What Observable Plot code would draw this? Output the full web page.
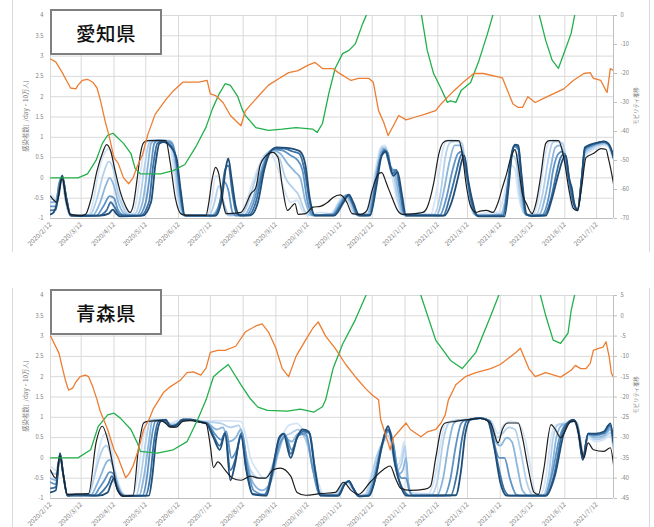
<!DOCTYPE html>
<html><head><meta charset="utf-8">
<script src="https://cdn.jsdelivr.net/npm/d3@7"></script>
<script src="https://cdn.jsdelivr.net/npm/@observablehq/plot@0.6"></script>
<style>
body{margin:0;background:#fff;}
#page{position:relative;width:654px;height:527px;overflow:hidden;font-family:"Noto Sans CJK JP","Noto Sans",sans-serif;}
.chart{position:absolute;left:0;}
.edge{position:absolute;width:0;border-left:1px solid #d9d9d9;}
.tag{position:absolute;background:#fff;border:2px solid #7f7f7f;box-sizing:border-box;display:flex;align-items:center;justify-content:center;font-size:19.5px;font-weight:500;color:#111;letter-spacing:0.5px;}
.ytitle{position:absolute;white-space:pre;color:#808080;transform:translate(-50%,-50%) rotate(-90deg);}
</style></head><body><div id="page"></div>
<script>
// Day offsets are counted from 2020-02-12; values on the left axis run -1..4,
// mobility values (orange) are read on the right-hand axis.
const xTickLabels = ["2020/2/12","2020/3/12","2020/4/12","2020/5/12","2020/6/12","2020/7/12","2020/8/12","2020/9/12","2020/10/12","2020/11/12","2020/12/12","2021/1/12","2021/2/12","2021/3/12","2021/4/12","2021/5/12","2021/6/12","2021/7/12"];
const leftTicks = [-1,-0.5,0,0.5,1,1.5,2,2.5,3,3.5,4];
const aichiRightTicks = [0,-10,-20,-30,-40,-50,-60,-70];
const aomoriRightTicks = [5,0,-5,-10,-15,-20,-25,-30,-35,-40,-45];

// ---- 愛知県 ----
const aichiBlack = [[0,-0.45],[6,-0.6],[11,0.0],[15,-0.6],[19,-0.9],[28,-0.93],[33,-0.9],[38,-0.55],[44,0.18],[49,0.6],[53,0.82],[57,0.65],[61,0.18],[66,-0.35],[71,-0.7],[75,-0.85],[78,-0.7],[82,0.0],[85,0.6],[88,0.87],[92,0.92],[109,0.92],[113,0.4],[118,-0.5],[123,-0.88],[128,-0.92],[147,-0.92],[149,-0.7],[153,0.0],[156,0.26],[159,0.1],[163,-0.6],[166,-0.88],[180,-0.85],[184,-0.7],[189,-0.4],[194,-0.24],[198,0.3],[202,0.5],[210,0.63],[215,0.5],[219,-0.2],[224,-0.8],[228,-0.7],[231,-0.63],[234,-0.9],[241,-0.88],[248,-0.72],[255,-0.7],[262,-0.6],[267,-0.48],[274,-0.42],[280,-0.6],[285,-0.88],[293,-0.9],[299,-0.8],[304,-0.3],[310,0.1],[313,0.13],[317,-0.1],[319,-0.24],[323,-0.5],[328,-0.8],[333,-0.9],[345,-0.88],[352,-0.85],[356,-0.72],[362,-0.14],[367,0.6],[371,0.87],[375,0.92],[386,0.92],[389,0.6],[393,-0.2],[397,-0.7],[402,-0.85],[406,-0.82],[412,-0.8],[418,-0.85],[423,-0.6],[427,-0.24],[431,0.1],[435,0.5],[439,0.7],[442,0.3],[446,-0.4],[450,-0.65],[455,-0.88],[459,-0.6],[463,0.0],[468,0.85],[471,0.92],[480,0.92],[485,0.5],[490,-0.3],[494,-0.75],[498,-0.8],[502,-0.2],[506,0.5],[513,0.6],[520,0.72],[525,0.7],[527,0.5],[529,0.27],[532,-0.14]];
const aichiOrange = [[0,-15],[5,-16],[11,-19.6],[16,-23],[19,-25],[24,-25.3],[26,-24],[30,-22.4],[35,-22],[40,-23],[44,-25],[47,-29],[52,-37],[55,-41],[60,-49],[64,-51],[69,-56],[74,-58],[78,-56],[82,-52],[87,-48],[92,-41],[97,-36],[99,-34],[109,-29],[116,-26],[125,-23],[134,-23],[140,-23],[148,-22.4],[151,-27],[156,-27.6],[163,-30],[170,-34.5],[177,-37],[180,-38],[184,-33],[187,-31.7],[197,-27.6],[206,-24],[216,-21.7],[225,-19.7],[234,-19],[243,-17.2],[250,-16.2],[257,-18.3],[267,-18.3],[272,-19.7],[284,-22.4],[291,-21.7],[301,-21.7],[305,-23],[310,-32.8],[315,-37],[319,-41.4],[324,-38],[329,-34.5],[336,-36],[345,-35],[354,-34],[364,-32.8],[369,-30.5],[381,-26],[390,-23],[400,-20],[409,-20],[423,-21.2],[427,-21.5],[432,-26],[437,-30.5],[442,-31.7],[446,-31.7],[451,-28],[458,-30],[466,-28.6],[475,-27],[485,-25.3],[494,-22.4],[504,-20],[510,-19.7],[513,-21.7],[520,-22.4],[525,-26],[526,-26.5],[529,-18.3],[532,-19]];
const aichiGreen = [[0,0],[26,0],[35,0.1],[43,0.43],[49,0.85],[54,1.05],[59,1.1],[61,1.05],[69,0.85],[76,0.6],[80,0.23],[85,0.1],[104,0.1],[116,0.18],[127,0.33],[137,0.75],[142,1.0],[147,1.25],[153,1.7],[159,2.05],[165,2.32],[170,2.28],[177,2.0],[181,1.7],[184,1.54],[194,1.24],[206,1.17],[219,1.2],[232,1.24],[248,1.2],[252,1.12],[257,1.34],[263,2.08],[269,2.7],[276,3.06],[282,3.14],[288,3.3],[295,3.8],[300,4.1],[312,5],[331,5.5],[345,4.6],[350,4.1],[356,3.14],[362,2.57],[369,2.2],[375,1.86],[378,1.9],[383,1.86],[388,2.15],[397,2.35],[405,2.9],[413,3.56],[419,4.1],[435,5],[454,4.5],[461,4.1],[468,3.38],[474,2.9],[480,2.7],[485,3.06],[492,3.56],[496,4.1],[510,5],[532,5.5]];
const aichiBlue1 = [[0,-0.4],[5,-0.5],[8,-0.3],[11,-0.05],[14,-0.5],[18,-0.88],[24,-0.92],[33,-0.9],[36,-0.9],[41,-0.5],[45,0.1],[50,0.55],[55,0.72],[59,0.5],[63,-0.1],[68,-0.6],[73,-0.85],[78,-0.88],[81,-0.6],[86,0.3],[90,0.85],[94,0.93],[112,0.92],[115,0.5],[119,-0.3],[123,-0.85],[127,-0.93],[148,-0.92],[152,-0.6],[156,0.05],[159,0.0],[163,-0.6],[166,-0.9],[180,-0.9],[185,-0.6],[191,-0.1],[197,0.3],[202,0.55],[208,0.6],[214,0.3],[221,-0.3],[227,-0.6],[233,-0.55],[238,-0.8],[244,-0.92],[255,-0.85],[265,-0.88],[272,-0.6],[277,-0.45],[282,-0.6],[287,-0.9],[297,-0.9],[302,-0.5],[307,0.2],[312,0.75],[316,0.8],[319,0.5],[323,0.0],[327,-0.5],[331,-0.85],[335,-0.92],[350,-0.85],[359,-0.9],[365,-0.3],[370,0.6],[374,0.9],[378,0.93],[388,0.9],[391,0.4],[395,-0.4],[399,-0.85],[403,-0.9],[416,-0.85],[423,-0.85],[428,-0.5],[432,0.0],[436,0.3],[439,0.2],[442,-0.4],[446,-0.8],[450,-0.9],[457,-0.88],[462,-0.4],[467,0.5],[471,0.88],[474,0.93],[482,0.9],[486,0.4],[490,-0.3],[493,-0.75],[498,-0.8],[502,-0.2],[505,0.55],[510,0.65],[517,0.75],[523,0.8],[527,0.78],[530,0.6],[532,0.45]];
const aichiBlue2 = [[0,-0.5],[5,-0.55],[8,-0.25],[11,0.0],[14,-0.5],[18,-0.9],[24,-0.93],[36,-0.92],[38,-0.9],[44,-0.5],[50,0.1],[55,0.4],[59,0.25],[63,-0.3],[68,-0.7],[74,-0.9],[79,-0.9],[84,-0.6],[89,0.3],[93,0.85],[96,0.93],[113,0.92],[117,0.4],[121,-0.5],[125,-0.9],[129,-0.93],[150,-0.92],[155,-0.6],[159,-0.2],[162,-0.4],[165,-0.8],[169,-0.93],[181,-0.9],[187,-0.6],[194,0.0],[200,0.45],[208,0.65],[216,0.5],[222,0.0],[229,-0.25],[234,-0.4],[240,-0.8],[246,-0.92],[265,-0.9],[273,-0.6],[278,-0.44],[283,-0.6],[288,-0.9],[299,-0.9],[304,-0.4],[309,0.3],[313,0.75],[317,0.75],[320,0.4],[324,0.1],[328,-0.5],[332,-0.88],[336,-0.93],[362,-0.9],[369,-0.3],[373,0.5],[378,0.88],[383,0.9],[389,0.85],[392,0.3],[396,-0.5],[400,-0.88],[404,-0.92],[425,-0.9],[430,-0.5],[434,0.2],[437,0.55],[440,0.4],[443,-0.3],[447,-0.85],[451,-0.92],[459,-0.9],[465,-0.4],[470,0.4],[474,0.85],[477,0.9],[484,0.85],[488,0.3],[492,-0.4],[495,-0.75],[498,-0.8],[502,-0.1],[505,0.6],[510,0.7],[517,0.8],[523,0.84],[527,0.8],[530,0.62],[532,0.48]];
const aichiBlue3 = [[0,-0.6],[5,-0.6],[8,-0.2],[11,0.02],[14,-0.5],[18,-0.9],[24,-0.93],[40,-0.92],[47,-0.6],[52,-0.2],[56,0.0],[60,-0.2],[64,-0.6],[70,-0.88],[76,-0.92],[81,-0.92],[87,-0.6],[92,0.3],[95,0.85],[99,0.93],[114,0.9],[118,0.4],[122,-0.5],[126,-0.92],[152,-0.93],[158,-0.75],[162,-0.5],[164,-0.65],[168,-0.9],[183,-0.92],[190,-0.6],[197,0.0],[203,0.5],[210,0.68],[217,0.6],[224,0.35],[231,0.15],[236,0.0],[241,-0.6],[247,-0.92],[266,-0.9],[274,-0.6],[279,-0.43],[284,-0.6],[289,-0.9],[300,-0.9],[305,-0.3],[310,0.4],[314,0.72],[318,0.65],[321,0.3],[325,0.15],[329,-0.4],[333,-0.9],[365,-0.92],[371,-0.4],[377,0.4],[382,0.8],[387,0.8],[390,0.6],[394,0.0],[398,-0.7],[402,-0.92],[426,-0.9],[431,-0.4],[435,0.4],[438,0.7],[441,0.55],[444,-0.2],[448,-0.85],[452,-0.92],[462,-0.9],[468,-0.4],[473,0.3],[477,0.75],[481,0.8],[485,0.6],[489,0.1],[493,-0.5],[498,-0.8],[502,-0.05],[505,0.65],[510,0.75],[517,0.83],[523,0.86],[527,0.82],[530,0.65],[532,0.5]];
const aichiBlue4 = [[0,-0.7],[5,-0.7],[8,-0.15],[11,0.03],[15,-0.5],[19,-0.92],[28,-0.93],[43,-0.93],[50,-0.7],[56,-0.45],[60,-0.5],[64,-0.8],[70,-0.92],[83,-0.93],[90,-0.6],[95,0.3],[98,0.85],[102,0.93],[115,0.85],[119,0.4],[123,-0.5],[127,-0.92],[154,-0.93],[160,-0.6],[164,-0.1],[168,-0.3],[172,-0.85],[176,-0.93],[185,-0.92],[192,-0.6],[198,0.0],[205,0.55],[211,0.7],[219,0.68],[227,0.55],[233,0.45],[238,0.2],[243,-0.6],[248,-0.92],[267,-0.9],[275,-0.6],[280,-0.43],[285,-0.6],[290,-0.92],[301,-0.92],[306,-0.3],[311,0.4],[315,0.7],[319,0.6],[322,0.2],[326,0.2],[330,-0.3],[334,-0.9],[368,-0.92],[374,-0.5],[380,0.2],[385,0.6],[389,0.65],[392,0.3],[396,-0.3],[400,-0.8],[404,-0.93],[427,-0.92],[432,-0.3],[435,0.5],[438,0.78],[442,0.7],[445,-0.1],[449,-0.88],[454,-0.93],[464,-0.92],[471,-0.45],[475,0.2],[480,0.6],[484,0.65],[488,0.2],[492,-0.3],[498,-0.8],[502,-0.02],[505,0.7],[510,0.78],[517,0.85],[523,0.88],[527,0.83],[530,0.67],[532,0.5]];
const aichiBlue5 = [[0,-0.8],[5,-0.78],[8,-0.3],[11,0.04],[15,-0.5],[19,-0.92],[28,-0.93],[45,-0.93],[53,-0.8],[57,-0.6],[60,-0.7],[65,-0.9],[71,-0.93],[85,-0.93],[93,-0.6],[97,0.3],[101,0.85],[105,0.9],[113,0.82],[118,0.55],[122,-0.2],[126,-0.9],[129,-0.93],[155,-0.93],[161,-0.5],[165,0.2],[168,0.3],[172,-0.4],[176,-0.9],[187,-0.92],[194,-0.6],[200,0.1],[206,0.6],[212,0.72],[221,0.72],[229,0.65],[235,0.6],[240,0.2],[245,-0.6],[249,-0.92],[267,-0.92],[276,-0.6],[281,-0.42],[285,-0.6],[291,-0.92],[302,-0.92],[307,-0.2],[312,0.5],[316,0.68],[319,0.45],[323,0.1],[327,0.2],[331,-0.4],[335,-0.92],[371,-0.93],[377,-0.5],[383,0.1],[387,0.5],[389,0.6],[393,0.1],[397,-0.5],[401,-0.88],[405,-0.94],[428,-0.93],[432,-0.2],[436,0.6],[439,0.8],[442,0.75],[445,0.0],[449,-0.9],[454,-0.93],[466,-0.92],[473,-0.5],[478,0.1],[482,0.5],[486,0.6],[490,0.0],[493,-0.5],[498,-0.8],[502,0.0],[505,0.72],[510,0.8],[517,0.86],[523,0.89],[527,0.84],[530,0.68],[532,0.5]];
const aichiBlue6 = [[0,-0.9],[3,-0.85],[8,-0.4],[11,0.06],[15,-0.5],[19,-0.93],[28,-0.94],[47,-0.93],[55,-0.88],[59,-0.78],[62,-0.88],[66,-0.95],[87,-0.93],[95,-0.6],[99,0.3],[103,0.85],[107,0.88],[113,0.78],[119,0.5],[123,-0.3],[127,-0.93],[156,-0.93],[162,-0.5],[166,0.3],[168,0.48],[171,0.0],[175,-0.7],[179,-0.93],[189,-0.92],[196,-0.6],[202,0.2],[208,0.65],[214,0.75],[223,0.74],[231,0.7],[236,0.65],[241,0.3],[245,-0.5],[250,-0.93],[268,-0.93],[277,-0.6],[282,-0.41],[286,-0.6],[292,-0.93],[302,-0.92],[308,-0.2],[313,0.55],[317,0.65],[320,0.4],[324,0.05],[328,0.15],[332,-0.4],[336,-0.93],[372,-0.93],[379,-0.6],[385,0.0],[389,0.45],[391,0.55],[395,-0.1],[399,-0.6],[403,-0.93],[406,-0.95],[429,-0.95],[433,-0.2],[436,0.6],[439,0.82],[442,0.8],[445,0.1],[450,-0.9],[455,-0.94],[468,-0.93],[474,-0.5],[480,0.1],[484,0.45],[487,0.55],[490,0.0],[493,-0.3],[495,-0.65],[498,-0.78],[502,0.0],[505,0.75],[510,0.82],[517,0.87],[523,0.9],[527,0.85],[530,0.7],[532,0.5]];

// ---- 青森県 ----
const aomoriBlack = [[0,-0.3],[5,-0.5],[9,0.05],[12,-0.4],[16,-0.9],[36,-0.88],[43,0.37],[49,0.78],[54,0.45],[59,-0.2],[63,-0.78],[69,-0.94],[78,-0.93],[83,0.2],[88,0.86],[92,0.9],[104,0.92],[109,0.85],[113,0.76],[119,0.76],[125,0.9],[132,0.92],[142,0.88],[147,0.85],[151,0.3],[154,-0.24],[158,-0.1],[165,-0.3],[172,-0.5],[180,-0.55],[189,-0.45],[197,-0.5],[203,-0.5],[210,-0.3],[217,-0.25],[227,-0.45],[233,-0.85],[241,-0.92],[255,-0.88],[269,-0.85],[277,-0.6],[284,-0.8],[291,-0.9],[302,-0.6],[315,-0.28],[321,-0.2],[326,-0.5],[331,-0.75],[340,-0.8],[354,-0.77],[359,-0.7],[364,0.0],[369,0.7],[373,0.86],[383,0.9],[397,0.95],[406,0.97],[416,0.85],[423,0.37],[427,0.7],[432,0.86],[442,0.86],[446,0.5],[451,-0.2],[457,-0.85],[461,-0.9],[466,-0.3],[473,0.82],[477,0.7],[482,0.5],[492,0.9],[496,0.9],[501,0.3],[504,0.0],[508,0.37],[513,0.2],[523,0.16],[529,0.25],[532,-0.16]];
const aomoriOrange = [[0,-5],[8,-9.2],[11,-12.6],[14,-15.8],[17,-18.3],[21,-17.8],[24,-16.3],[28,-15],[33,-14.6],[36,-15],[40,-17.5],[44,-20.7],[47,-23.5],[54,-28],[60,-33],[64,-35],[71,-39.9],[74,-39],[78,-37],[83,-33],[88,-28],[93,-25.6],[97,-23],[107,-18.8],[113,-17.5],[123,-15.8],[129,-14],[135,-13.8],[142,-14.6],[147,-12.9],[151,-9],[158,-8.5],[165,-8.5],[175,-7.5],[184,-4],[194,-2.5],[200,-2],[206,-4],[213,-8],[219,-13],[225,-15],[232,-10],[241,-6],[248,-3],[253,-1.5],[260,-5],[269,-8],[279,-12],[288,-15],[298,-18],[304,-19.5],[310,-20.7],[312,-25.6],[315,-28],[319,-31.3],[321,-33],[324,-30],[328,-28.8],[336,-26.4],[340,-28],[350,-29.8],[356,-28.6],[364,-28],[369,-26.4],[373,-24.4],[376,-20.7],[383,-17],[392,-15],[402,-14],[416,-13],[425,-12],[440,-9],[444,-8],[452,-13],[458,-15],[468,-14],[482,-15.1],[492,-13.4],[496,-12.2],[501,-13],[506,-13],[510,-11.7],[513,-8.5],[518,-8],[522,-7.7],[525,-6.4],[526,-7.7],[528,-10.2],[530,-14.1],[532,-15.1]];
const aomoriGreen = [[0,0],[26,0],[38,0.2],[45,0.77],[54,1.06],[60,1.1],[66,0.98],[76,0.7],[82,0.37],[85,0.16],[101,0.12],[116,0.2],[129,0.4],[139,0.94],[147,1.43],[154,2.0],[161,2.16],[168,2.3],[180,1.8],[189,1.45],[196,1.25],[205,1.17],[224,1.15],[236,1.2],[249,1.13],[257,1.26],[260,1.43],[267,2.2],[276,2.8],[288,3.4],[298,4.0],[312,5],[340,5],[350,4.0],[364,2.9],[378,2.4],[389,2.2],[402,2.6],[416,3.5],[425,4.1],[444,5],[458,4.5],[468,3.5],[475,2.9],[482,2.82],[489,3.07],[492,3.63],[496,4.1],[510,5],[532,5.5]];
const aomoriBlue1 = [[0,-0.2],[5,-0.3],[9,0.0],[12,-0.4],[16,-0.9],[24,-0.88],[36,-0.88],[41,-0.5],[45,0.1],[50,0.55],[53,0.6],[57,0.3],[61,-0.3],[66,-0.75],[71,-0.92],[78,-0.9],[82,-0.5],[87,0.4],[91,0.9],[95,0.94],[109,0.92],[113,0.85],[118,0.9],[125,0.94],[132,0.94],[142,0.9],[156,0.92],[180,0.9],[184,0.6],[189,0.0],[195,-0.3],[202,-0.5],[210,-0.2],[217,0.4],[225,0.8],[233,0.85],[240,0.6],[248,0.0],[253,-0.6],[259,-0.9],[269,-0.9],[276,-0.65],[280,-0.6],[285,-0.75],[290,-0.93],[297,-0.9],[302,-0.5],[308,0.0],[313,0.3],[318,0.45],[322,0.2],[327,-0.2],[331,0.0],[334,0.4],[336,-0.3],[340,-0.85],[357,-0.88],[363,-0.5],[369,0.4],[373,0.85],[378,0.9],[397,0.95],[406,0.98],[416,0.92],[423,0.6],[428,0.8],[435,0.9],[442,0.85],[449,0.4],[454,-0.3],[458,-0.85],[463,-0.9],[468,-0.5],[473,0.5],[477,0.8],[484,0.85],[492,0.9],[496,0.9],[500,0.3],[503,0.0],[508,0.5],[515,0.4],[523,0.45],[529,0.55],[532,0.2]];
const aomoriBlue2 = [[0,-0.35],[5,-0.4],[9,0.03],[12,-0.4],[16,-0.9],[36,-0.9],[40,-0.6],[44,-0.2],[49,0.2],[53,0.3],[57,0.05],[61,-0.45],[66,-0.8],[71,-0.93],[81,-0.92],[85,-0.5],[90,0.4],[94,0.9],[97,0.94],[110,0.9],[113,0.82],[119,0.85],[125,0.94],[132,0.94],[142,0.9],[151,0.88],[161,0.85],[170,0.75],[178,0.8],[183,0.3],[189,-0.3],[197,-0.5],[204,-0.5],[212,0.0],[219,0.5],[227,0.6],[234,0.7],[241,0.45],[248,-0.2],[253,-0.75],[259,-0.92],[270,-0.9],[277,-0.62],[281,-0.58],[285,-0.75],[291,-0.93],[298,-0.9],[303,-0.5],[309,0.1],[314,0.4],[319,0.55],[323,0.25],[328,-0.3],[332,-0.1],[335,0.3],[337,-0.4],[341,-0.9],[360,-0.9],[366,-0.5],[371,0.4],[376,0.85],[381,0.92],[397,0.95],[406,0.98],[416,0.9],[422,0.5],[427,0.6],[433,0.75],[439,0.7],[444,0.2],[450,-0.6],[456,-0.92],[465,-0.92],[471,-0.4],[475,0.5],[480,0.82],[487,0.85],[493,0.92],[498,0.85],[501,0.3],[503,0.0],[508,0.55],[515,0.45],[523,0.5],[529,0.62],[532,0.25]];
const aomoriBlue3 = [[0,-0.5],[5,-0.55],[9,0.06],[12,-0.4],[16,-0.92],[38,-0.92],[43,-0.7],[48,-0.4],[53,-0.1],[56,-0.05],[60,-0.3],[64,-0.7],[69,-0.93],[84,-0.92],[88,-0.5],[93,0.4],[96,0.9],[100,0.94],[110,0.88],[113,0.8],[119,0.82],[125,0.94],[132,0.94],[142,0.9],[149,0.85],[157,0.7],[163,0.75],[168,0.4],[175,0.5],[180,0.7],[185,0.0],[191,-0.6],[200,-0.8],[208,-0.6],[215,0.1],[221,0.5],[228,0.4],[234,0.6],[241,0.55],[248,-0.3],[254,-0.85],[261,-0.93],[271,-0.92],[278,-0.63],[282,-0.58],[286,-0.75],[291,-0.94],[299,-0.92],[305,-0.5],[311,0.15],[316,0.5],[319,0.65],[324,0.3],[329,-0.4],[333,-0.3],[336,0.0],[338,-0.6],[342,-0.92],[365,-0.92],[371,-0.5],[376,0.3],[381,0.85],[386,0.93],[397,0.95],[406,0.98],[415,0.9],[419,0.5],[425,0.3],[431,0.5],[436,0.4],[441,-0.2],[446,-0.8],[452,-0.93],[466,-0.93],[473,-0.4],[478,0.5],[483,0.8],[489,0.85],[494,0.93],[498,0.8],[501,0.3],[503,0.0],[508,0.58],[515,0.5],[523,0.55],[529,0.7],[532,0.3]];
const aomoriBlue4 = [[0,-0.6],[5,-0.65],[9,0.08],[12,-0.4],[16,-0.92],[41,-0.92],[46,-0.75],[51,-0.55],[56,-0.35],[59,-0.38],[62,-0.6],[67,-0.88],[72,-0.94],[87,-0.93],[91,-0.5],[95,0.4],[99,0.9],[103,0.94],[112,0.85],[114,0.78],[119,0.8],[125,0.94],[132,0.94],[142,0.89],[148,0.85],[155,0.6],[161,0.45],[166,0.65],[171,0.0],[176,0.2],[181,0.62],[186,-0.2],[192,-0.8],[202,-0.9],[209,-0.45],[216,0.3],[222,0.55],[228,0.2],[234,0.55],[241,0.6],[248,-0.3],[254,-0.9],[271,-0.93],[278,-0.64],[282,-0.57],[286,-0.75],[292,-0.94],[300,-0.92],[306,-0.5],[312,0.2],[317,0.6],[320,0.7],[324,0.35],[328,-0.3],[332,-0.5],[336,-0.5],[339,-0.8],[343,-0.93],[372,-0.93],[378,-0.5],[383,0.3],[388,0.85],[392,0.93],[399,0.95],[406,0.98],[415,0.9],[419,0.4],[424,0.0],[429,0.0],[434,-0.5],[440,-0.9],[444,-0.93],[467,-0.93],[474,-0.4],[481,0.5],[486,0.8],[491,0.88],[494,0.93],[498,0.75],[502,0.2],[503,-0.02],[508,0.58],[515,0.55],[523,0.6],[529,0.76],[532,0.35]];
const aomoriBlue5 = [[0,-0.75],[5,-0.72],[9,0.1],[12,-0.4],[16,-0.93],[43,-0.93],[50,-0.8],[55,-0.62],[58,-0.45],[61,-0.6],[65,-0.85],[70,-0.94],[90,-0.93],[94,-0.5],[98,0.45],[102,0.9],[106,0.94],[112,0.8],[116,0.76],[120,0.82],[125,0.94],[132,0.94],[142,0.88],[148,0.85],[154,0.55],[160,0.3],[165,0.62],[170,-0.3],[175,0.0],[180,0.6],[185,-0.25],[191,-0.88],[203,-0.92],[209,-0.35],[216,0.45],[221,0.6],[227,0.1],[233,0.5],[239,0.65],[245,0.6],[250,-0.3],[255,-0.92],[272,-0.93],[278,-0.65],[282,-0.57],[286,-0.75],[292,-0.95],[301,-0.93],[307,-0.5],[313,0.25],[318,0.7],[321,0.6],[325,-0.1],[330,-0.6],[335,-0.85],[339,-0.93],[378,-0.93],[384,-0.4],[389,0.5],[393,0.9],[397,0.95],[406,0.98],[415,0.91],[419,0.35],[424,-0.3],[429,-0.8],[434,-0.93],[468,-0.93],[476,-0.4],[483,0.55],[488,0.85],[493,0.9],[495,0.93],[499,0.65],[503,-0.04],[508,0.6],[515,0.58],[523,0.62],[527,0.78],[529,0.8],[532,0.38]];
const aomoriBlue6 = [[0,-0.85],[5,-0.8],[9,0.12],[12,-0.4],[16,-0.93],[24,-0.9],[45,-0.93],[54,-0.85],[57,-0.65],[60,-0.5],[63,-0.75],[68,-0.94],[93,-0.93],[96,-0.5],[100,0.5],[104,0.9],[109,0.94],[113,0.78],[118,0.8],[125,0.94],[132,0.94],[142,0.88],[147,0.85],[154,0.5],[160,0.2],[165,0.6],[170,-0.55],[174,-0.2],[180,0.55],[185,-0.3],[191,-0.9],[204,-0.93],[210,-0.3],[216,0.5],[220,0.6],[227,0.0],[233,0.5],[238,0.7],[244,0.65],[250,-0.3],[255,-0.93],[272,-0.93],[278,-0.65],[282,-0.57],[286,-0.75],[292,-0.95],[301,-0.93],[307,-0.5],[313,0.3],[319,0.78],[322,0.5],[326,-0.2],[331,-0.7],[336,-0.93],[383,-0.92],[388,-0.3],[392,0.6],[397,0.95],[406,0.98],[413,0.92],[419,0.3],[425,-0.6],[431,-0.93],[468,-0.93],[477,-0.4],[485,0.6],[490,0.9],[494,0.94],[499,0.6],[503,-0.05],[508,0.6],[515,0.6],[523,0.65],[527,0.8],[529,0.85],[532,0.4]];

const aichiBlues = [aichiBlue1, aichiBlue2, aichiBlue3, aichiBlue4, aichiBlue5, aichiBlue6];
const aomoriBlues = [aomoriBlue1, aomoriBlue2, aomoriBlue3, aomoriBlue4, aomoriBlue5, aomoriBlue6];

const START = Date.UTC(2020, 1, 12);
const toDate = d => new Date(START + d * 864e5);
const xTicks = xTickLabels.map(s => { const [y, m, d] = s.split("/").map(Number); return new Date(Date.UTC(y, m - 1, d)); });
const blueRamp = d3.interpolateRgbBasis(["#d6e5f5", "#9dc3e6", "#4a86c0", "#1f4e79"]);
const FONT = '"Noto Sans CJK JP","Noto Sans",sans-serif';

function drawPanel({top, height, rightTicks, black, orange, green, blues, name, leftTitleY, rightTitleY}) {
  const r0 = rightTicks[rightTicks.length - 1], r1 = rightTicks[0];
  const toLeft = r => -1 + (r - r0) / (r1 - r0) * 5;
  const fromLeft = v => r0 + (v + 1) / 5 * (r1 - r0);
  const pt = (d, y) => ({date: toDate(d[0]), v: y});
  const lineOpts = {x: "date", y: "v", clip: true};
  const blueMarks = blues.map((s, i) => Plot.line(s.map(d => pt(d, d[1])), {
    ...lineOpts, stroke: blueRamp(i / (blues.length - 1)), strokeWidth: 1.8, curve: "monotone-x"
  }));
  const chart = Plot.plot({
    width: 654, height,
    marginTop: 15, marginLeft: 50, marginRight: 41, marginBottom: height - 15 - 203,
    x: {type: "utc", domain: [toDate(0), toDate(532)]},
    y: {domain: [-1, 4]},
    style: {fontFamily: FONT, background: "transparent", overflow: "visible"},
    marks: [
      Plot.gridY(leftTicks, {stroke: "#d9d9d9", strokeOpacity: 1}),
      Plot.gridX(xTicks, {stroke: "#d9d9d9", strokeOpacity: 1}),
      Plot.ruleY([-1], {stroke: "#bfbfbf"}),
      Plot.ruleX([toDate(532)], {stroke: "#bfbfbf"}),
      Plot.axisY(leftTicks, {anchor: "left", tickSize: 0, tickPadding: 7, fontSize: 5.8, fill: "#7f7f7f", tickFormat: d => String(d), label: null}),
      Plot.axisY(rightTicks.map(toLeft), {anchor: "right", tickSize: 3, tickPadding: 4, fontSize: 5.8, fill: "#7f7f7f", stroke: "#bfbfbf", tickFormat: d => String(Math.round(fromLeft(d))), label: null}),
      Plot.axisX(xTicks, {tickRotate: -45, tickSize: 0, tickPadding: 5, fontSize: 6.5, fill: "#7f7f7f", tickFormat: d => `${d.getUTCFullYear()}/${d.getUTCMonth() + 1}/${d.getUTCDate()}`, label: null}),
      ...blueMarks,
      Plot.line(black.map(d => pt(d, d[1])), {...lineOpts, stroke: "#1e1e1e", strokeWidth: 1.2, curve: "monotone-x"}),
      Plot.line(green.map(d => pt(d, d[1])), {...lineOpts, stroke: "#22b04b", strokeWidth: 1.3}),
      Plot.line(orange.map(d => pt(d, toLeft(d[1]))), {...lineOpts, stroke: "#ed7d31", strokeWidth: 1.3})
    ]
  });
  chart.classList.add("chart");
  chart.style.top = top + "px";
  const page = document.getElementById("page");
  page.appendChild(chart);

  const tag = document.createElement("div");
  tag.className = "tag";
  Object.assign(tag.style, {left: "50px", top: (top + 9) + "px", width: "112px", height: "46px"});
  tag.textContent = name;
  page.appendChild(tag);

  const lt = document.createElement("div");
  lt.className = "ytitle";
  Object.assign(lt.style, {left: "25px", top: leftTitleY + "px", fontSize: "6.3px"});
  lt.textContent = "感染者数(  /day・10万人)";
  page.appendChild(lt);

  const rt = document.createElement("div");
  rt.className = "ytitle";
  Object.assign(rt.style, {left: "636px", top: rightTitleY + "px", fontSize: "5.4px"});
  rt.textContent = "モビリティ推移";
  page.appendChild(rt);
}

drawPanel({top: 0, height: 262, rightTicks: aichiRightTicks, black: aichiBlack, orange: aichiOrange, green: aichiGreen, blues: aichiBlues, name: "愛知県", leftTitleY: 116, rightTitleY: 106});
drawPanel({top: 280, height: 247, rightTicks: aomoriRightTicks, black: aomoriBlack, orange: aomoriOrange, green: aomoriGreen, blues: aomoriBlues, name: "青森県", leftTitleY: 396, rightTitleY: 395});

// light frame edges of the two chart areas
for (const [t, h] of [[0, 252], [288, 239]]) {
  for (const x of [12, 649]) {
    const e = document.createElement("div");
    e.className = "edge";
    Object.assign(e.style, {left: x + "px", top: t + "px", height: h + "px"});
    document.getElementById("page").appendChild(e);
  }
}
</script></body></html>
